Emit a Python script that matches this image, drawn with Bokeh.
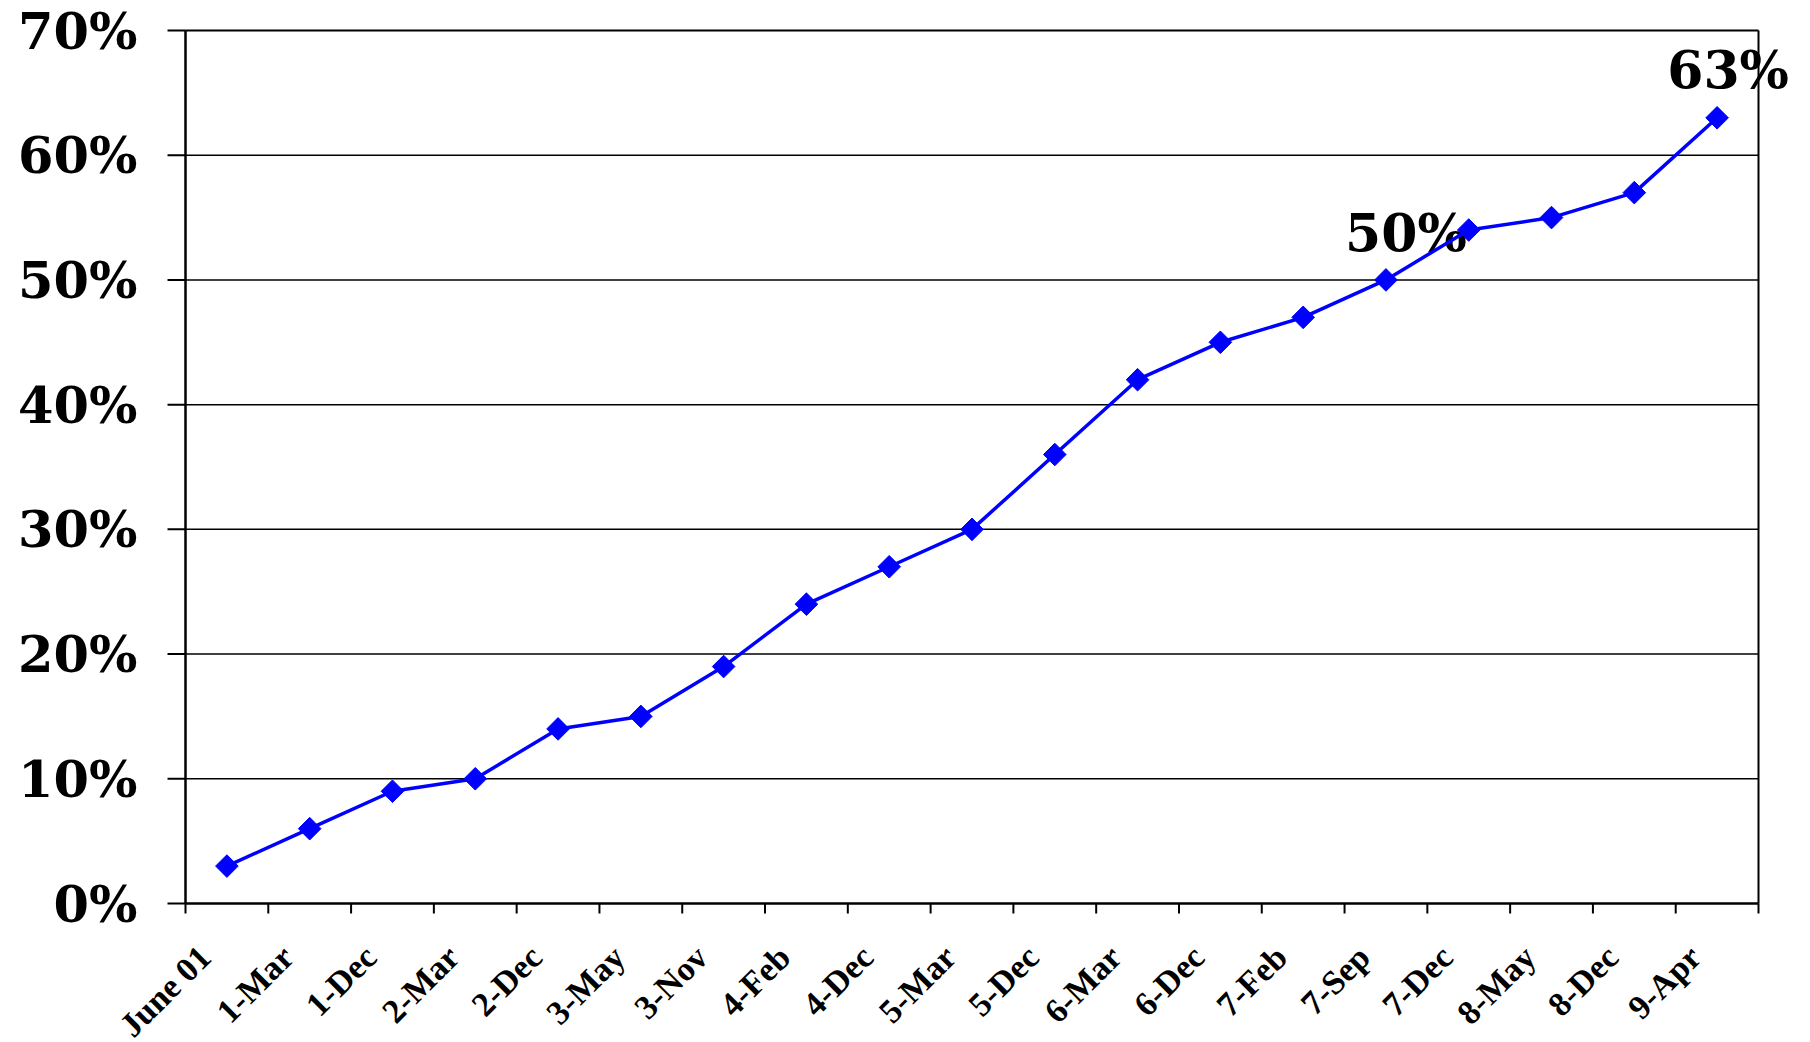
from bokeh.plotting import figure
from bokeh.models import Range1d, ColumnDataSource
from bokeh.core.properties import value
from bokeh.embed import file_html
from bokeh.resources import INLINE
import math

# Survey dates and share reported at each date (percent)
dates = ["June 01", "1-Mar", "1-Dec", "2-Mar", "2-Dec", "3-May", "3-Nov", "4-Feb",
         "4-Dec", "5-Mar", "5-Dec", "6-Mar", "6-Dec", "7-Feb", "7-Sep", "7-Dec",
         "8-May", "8-Dec", "9-Apr"]
share = [3, 6, 9, 10, 14, 15, 19, 24, 27, 30, 36, 42, 45, 47, 50, 54, 55, 57, 63]
y_ticks = [0, 10, 20, 30, 40, 50, 60, 70]
y_tick_labels = ["0%", "10%", "20%", "30%", "40%", "50%", "60%", "70%"]

# Callouts on two of the points
callout_dates = ["7-Sep", "9-Apr"]
callout_text = ["50%", "63%"]

n = len(dates)
xpos = [i + 0.5 for i in range(n)]
centers = {d: i + 0.5 for i, d in enumerate(dates)}

# Page geometry (px). The boxed chart is box_w x box_h with its corner at
# (box_left, box_top). The drawing frame fills the whole page so the axis
# labels and callouts around the box are drawn as ordinary glyphs.
W, H = 1810, 1042
box_left, box_top, box_w, box_h = 185, 30, 1573, 873
px_x = box_w / n
px_y = box_h / 70
x_start = -box_left / px_x
x_end = (W - box_left) / px_x
y_end = 70 + box_top / px_y
y_start = -(H - (box_top + box_h)) / px_y

p = figure(width=W, height=H, output_backend="svg", toolbar_location=None,
           x_range=Range1d(x_start, x_end), y_range=Range1d(y_start, y_end),
           x_axis_location=None, y_axis_location=None,
           min_border_left=0, min_border_right=0,
           min_border_top=0, min_border_bottom=0)
p.background_fill_color = "white"
p.border_fill_color = "white"
p.outline_line_color = None
p.xgrid.grid_line_color = None
p.ygrid.grid_line_color = None

# Horizontal rules (top one is the box's upper edge, bottom one the x axis)
p.segment(x0=[0] * len(y_ticks), x1=[n] * len(y_ticks), y0=y_ticks, y1=y_ticks,
          line_color="black",
          line_width=[2.5 if t == 0 else 2 if t == 70 else 1.5 for t in y_ticks])
# Left (axis) and right edges of the box
p.segment(x0=[0, n], x1=[0, n], y0=[0, 0], y1=[70, 70], line_color="black",
          line_width=[2.5, 2])

# Y tick marks sticking out to the left, with percent labels
ytick_len = 18 / px_x
p.segment(x0=[0] * len(y_ticks), x1=[-ytick_len] * len(y_ticks), y0=y_ticks,
          y1=y_ticks, line_color="black", line_width=2)
p.text(x=[0] * len(y_ticks), y=y_ticks, text=y_tick_labels, x_offset=-48,
       text_font=value("DejaVu Serif"), text_font_style="bold",
       text_font_size="51px", text_color="black",
       text_align="right", text_baseline="middle")

# Category boundary tick marks below the x axis
xtick_len = 10 / px_y
edges = list(range(n + 1))
p.segment(x0=edges, x1=edges, y0=[0] * len(edges), y1=[-xtick_len] * len(edges),
          line_color="black", line_width=2)

# Rotated date labels, right-aligned just left of each slot centre
p.text(x=xpos, y=[0] * n, text=dates, x_offset=-22, y_offset=48, angle=math.pi / 4,
       text_font=value("Liberation Serif"), text_font_style="bold",
       text_font_size="34px", text_color="black",
       text_align="right", text_baseline="alphabetic")

# Callout labels (drawn beneath the line)
cx = [centers[d] for d in callout_dates]
cy = [share[dates.index(d)] for d in callout_dates]
callouts = ColumnDataSource(dict(x=cx, y=cy, t=callout_text,
                                 xo=[20, 11], yo=[-47, -48]))
p.text(x="x", y="y", text="t", x_offset="xo", y_offset="yo", source=callouts,
       text_font=value("DejaVu Serif"), text_font_style="bold",
       text_font_size="52px", text_color="black",
       text_align="center", text_baseline="middle")

src = ColumnDataSource(dict(x=xpos, y=share))
p.line(x="x", y="y", source=src, line_color="#0000FF", line_width=3.5)
p.scatter(x="x", y="y", source=src, marker="square", size=16, angle=math.pi / 4,
          fill_color="#0000FF", line_color="#0000FF")

open("out.html", "w").write(file_html(p, INLINE))
